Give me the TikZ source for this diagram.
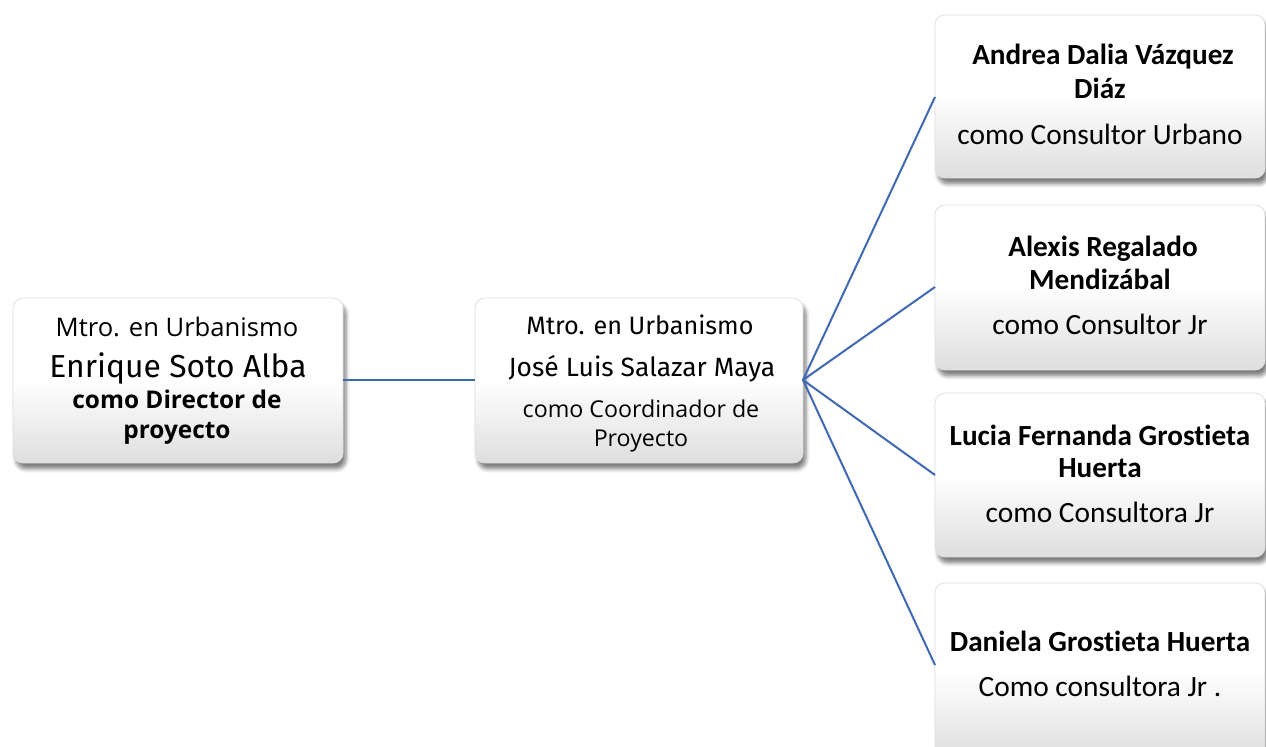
\documentclass[tikz,border=0pt]{standalone}
\usepackage{fontspec}
\setmainfont[Ligatures=NoCommon]{Carlito}
\newfontfamily\din{Fira Sans}
\newfontfamily\segoe{Open Sans}
\usetikzlibrary{shadows.blur}
\definecolor{linkblue}{HTML}{4069B4}
\tikzset{
  x={(0.5pt,0)}, y={(0,-0.5pt)},
  card/.style={draw=black!12, line width=0.4pt, rounded corners=5pt,
    top color=white, bottom color=black!13, middle color=white,
    blur shadow={shadow xshift=1.5pt, shadow yshift=-3pt, shadow opacity=50, shadow blur steps=6}},
  link/.style={draw=linkblue, line width=1pt},
  txt/.style={anchor=base, inner sep=0pt},
}
\begin{document}
\begin{tikzpicture}
\useasboundingbox (0,0) rectangle (1266,747);
% boxes
\path[card] (13,298) rectangle (343,463);
\path[card] (475,298) rectangle (803,463);
\path[card] (935,15) rectangle (1265,178);
\path[card] (935,205) rectangle (1265,370);
\path[card] (935,393) rectangle (1265,557);
\path[card] (935,583) rectangle (1265,760);
\coordinate (aR) at (343,380);
\coordinate (bL) at (475,380);
\coordinate (bR) at (803,380);
\coordinate (c1) at (935,97);
\coordinate (c2) at (935,287);
\coordinate (c3) at (935,475);
\coordinate (c4) at (935,665);
\draw[link] (aR) -- (bL);
\draw[link] (bR) -- (c1);
\draw[link] (bR) -- (c2);
\draw[link] (bR) -- (c3);
\draw[link] (bR) -- (c4);
% left
\node[txt, font=\segoe\fontsize{12.8pt}{14pt}\selectfont] (a1) at (177,337) {Mtro. en Urbanismo};
\node[txt, font=\din\fontsize{15.9pt}{17pt}\selectfont] (a2) at (178,378) {Enrique Soto Alba};
\node[txt, font=\segoe\bfseries\fontsize{12.2pt}{13pt}\selectfont] (a3) at (177,409) {como Director de};
\node[txt, font=\segoe\bfseries\fontsize{12.2pt}{13pt}\selectfont] (a4) at (177,439) {proyecto};
% middle
\node[txt, font=\din\fontsize{12.6pt}{14pt}\selectfont] (b1) at (640,335) {Mtro. en Urbanismo};
\node[txt, font=\din\fontsize{13.2pt}{14pt}\selectfont] (b2) at (642,377) {José Luis Salazar Maya};
\node[txt, font=\segoe\fontsize{11.6pt}{13pt}\selectfont] (b3) at (641,418) {como Coordinador de};
\node[txt, font=\segoe\fontsize{11.6pt}{13pt}\selectfont] (b4) at (641,447) {Proyecto};
% right
\node[txt, font=\bfseries\fontsize{14.6pt}{16pt}\selectfont] (r11) at (1103,65) {Andrea Dalia Vázquez};
\node[txt, font=\bfseries\fontsize{14.6pt}{16pt}\selectfont] (r12) at (1100,99) {Diáz};
\node[txt, font=\fontsize{14.7pt}{16pt}\selectfont] (r13) at (1100,145) {como Consultor Urbano};
\node[txt, font=\bfseries\fontsize{14.6pt}{16pt}\selectfont] (r21) at (1103,257) {Alexis Regalado};
\node[txt, font=\bfseries\fontsize{14.6pt}{16pt}\selectfont] (r22) at (1100,290) {Mendizábal};
\node[txt, font=\fontsize{14.7pt}{16pt}\selectfont] (r23) at (1100,335) {como Consultor Jr};
\node[txt, font=\bfseries\fontsize{14.6pt}{16pt}\selectfont] (r31) at (1100,446) {Lucia Fernanda Grostieta};
\node[txt, font=\bfseries\fontsize{14.6pt}{16pt}\selectfont] (r32) at (1100,478) {Huerta};
\node[txt, font=\fontsize{14.7pt}{16pt}\selectfont] (r33) at (1100,523) {como Consultora Jr};
\node[txt, font=\bfseries\fontsize{14.6pt}{16pt}\selectfont] (r41) at (1100,652) {Daniela Grostieta Huerta};
\node[txt, font=\fontsize{14.7pt}{16pt}\selectfont] (r42) at (1100,697) {Como consultora Jr .};
\end{tikzpicture}
\end{document}
